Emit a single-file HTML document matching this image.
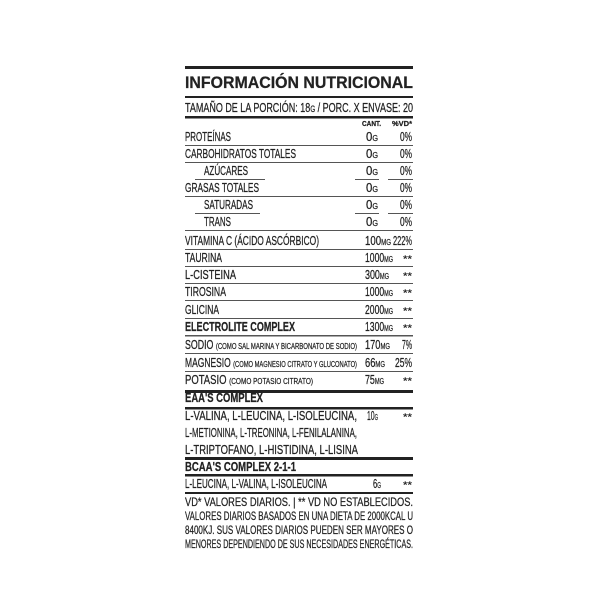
<!DOCTYPE html>
<html><head><style>
html,body{margin:0;padding:0;background:#fff;width:600px;height:600px;overflow:hidden}
svg text{font-family:"Liberation Sans",sans-serif;fill:#222;stroke:#222;stroke-width:0.25}
</style></head><body>
<svg width="600" height="600" viewBox="0 0 600 600" xmlns="http://www.w3.org/2000/svg">
<g fill="#222">
<rect x="185" y="66" width="228" height="3"/>
<rect x="185" y="96" width="228" height="2"/>
<rect x="185" y="116" width="228" height="2.5"/>
<rect x="185" y="390" width="228" height="3"/>
<rect x="185" y="407" width="228" height="2.5"/>
<rect x="185" y="457" width="228" height="3"/>
<rect x="185" y="474" width="228" height="2.5"/>
<rect x="185" y="492" width="228" height="2"/>
</g>
<g fill="#555">
<rect x="185" y="145" width="228" height="1"/>
<rect x="185" y="162" width="228" height="1"/>
<rect x="195" y="179" width="70" height="1"/><rect x="355" y="179" width="24" height="1"/><rect x="388" y="179" width="25" height="1"/>
<rect x="185" y="196" width="228" height="1"/>
<rect x="195" y="213" width="65" height="1"/><rect x="355" y="213" width="24" height="1"/><rect x="388" y="213" width="25" height="1"/>
<rect x="185" y="230" width="228" height="1"/>
<rect x="185" y="249" width="228" height="1"/>
<rect x="185" y="266" width="228" height="1"/>
<rect x="185" y="283" width="228" height="1"/>
<rect x="185" y="300" width="228" height="1"/>
<rect x="185" y="318" width="228" height="1"/>
<rect x="185" y="335" width="228" height="1.5"/>
<rect x="185" y="353" width="228" height="1"/>
<rect x="185" y="371" width="228" height="1"/>
</g>
<text x="185" y="88" font-size="17" font-weight="bold" textLength="228" lengthAdjust="spacingAndGlyphs">INFORMACIÓN NUTRICIONAL</text>
<text x="185" y="112" font-size="13" textLength="228" lengthAdjust="spacingAndGlyphs">TAMAÑO DE LA PORCIÓN: 18<tspan font-size="9">G</tspan> / PORC. X ENVASE: 20</text>
<text x="362" y="126" font-size="7" font-weight="bold" textLength="19" lengthAdjust="spacingAndGlyphs">CANT.</text>
<text x="392" y="126" font-size="7" font-weight="bold" textLength="20" lengthAdjust="spacingAndGlyphs">%VD*</text>
<g font-size="12.5">
<text x="185" y="141" textLength="46" lengthAdjust="spacingAndGlyphs">PROTEÍNAS</text>
<text x="185" y="158" textLength="111" lengthAdjust="spacingAndGlyphs">CARBOHIDRATOS TOTALES</text>
<text x="204" y="175" textLength="44" lengthAdjust="spacingAndGlyphs">AZÚCARES</text>
<text x="185" y="192" textLength="74" lengthAdjust="spacingAndGlyphs">GRASAS TOTALES</text>
<text x="204" y="209" textLength="49" lengthAdjust="spacingAndGlyphs">SATURADAS</text>
<text x="204" y="226" textLength="27" lengthAdjust="spacingAndGlyphs">TRANS</text>
<text x="185" y="245" textLength="134" lengthAdjust="spacingAndGlyphs">VITAMINA C (ÁCIDO ASCÓRBICO)</text>
<text x="185" y="262" textLength="37" lengthAdjust="spacingAndGlyphs">TAURINA</text>
<text x="185" y="279" textLength="51" lengthAdjust="spacingAndGlyphs">L-CISTEINA</text>
<text x="185" y="296" textLength="41" lengthAdjust="spacingAndGlyphs">TIROSINA</text>
<text x="185" y="314" textLength="34" lengthAdjust="spacingAndGlyphs">GLICINA</text>
<text x="185" y="331" font-weight="bold" textLength="110" lengthAdjust="spacingAndGlyphs">ELECTROLITE COMPLEX</text>
<text x="185" y="349" textLength="172" lengthAdjust="spacingAndGlyphs">SODIO <tspan font-size="8.5">(COMO SAL MARINA Y BICARBONATO DE SODIO)</tspan></text>
<text x="185" y="367" textLength="172" lengthAdjust="spacingAndGlyphs">MAGNESIO <tspan font-size="8.5">(COMO MAGNESIO CITRATO Y GLUCONATO)</tspan></text>
<text x="185" y="384" textLength="128" lengthAdjust="spacingAndGlyphs">POTASIO <tspan font-size="8.5">(COMO POTASIO CITRATO)</tspan></text>
<text x="185" y="402" font-weight="bold" textLength="78" lengthAdjust="spacingAndGlyphs">EAA'S COMPLEX</text>
<text x="185" y="420" textLength="172" lengthAdjust="spacingAndGlyphs">L-VALINA, L-LEUCINA, L-ISOLEUCINA,</text>
<text x="185" y="437" textLength="172" lengthAdjust="spacingAndGlyphs">L-METIONINA, L-TREONINA, L-FENILALANINA,</text>
<text x="185" y="454" textLength="173" lengthAdjust="spacingAndGlyphs">L-TRIPTOFANO, L-HISTIDINA, L-LISINA</text>
<text x="185" y="471" font-weight="bold" textLength="111" lengthAdjust="spacingAndGlyphs">BCAA'S COMPLEX 2-1-1</text>
<text x="185" y="488" textLength="142" lengthAdjust="spacingAndGlyphs">L-LEUCINA, L-VALINA, L-ISOLEUCINA</text>
</g>
<g font-size="12.5">
<text x="366" y="141" textLength="12" lengthAdjust="spacingAndGlyphs">0<tspan font-size="8">G</tspan></text><text x="400" y="141" textLength="12" lengthAdjust="spacingAndGlyphs">0%</text>
<text x="366" y="158" textLength="12" lengthAdjust="spacingAndGlyphs">0<tspan font-size="8">G</tspan></text><text x="400" y="158" textLength="12" lengthAdjust="spacingAndGlyphs">0%</text>
<text x="366" y="175" textLength="12" lengthAdjust="spacingAndGlyphs">0<tspan font-size="8">G</tspan></text><text x="400" y="175" textLength="12" lengthAdjust="spacingAndGlyphs">0%</text>
<text x="366" y="192" textLength="12" lengthAdjust="spacingAndGlyphs">0<tspan font-size="8">G</tspan></text><text x="400" y="192" textLength="12" lengthAdjust="spacingAndGlyphs">0%</text>
<text x="366" y="209" textLength="12" lengthAdjust="spacingAndGlyphs">0<tspan font-size="8">G</tspan></text><text x="400" y="209" textLength="12" lengthAdjust="spacingAndGlyphs">0%</text>
<text x="366" y="226" textLength="12" lengthAdjust="spacingAndGlyphs">0<tspan font-size="8">G</tspan></text><text x="400" y="226" textLength="12" lengthAdjust="spacingAndGlyphs">0%</text>
<text x="365" y="245" textLength="26" lengthAdjust="spacingAndGlyphs">100<tspan font-size="8">MG</tspan></text><text x="393" y="245" textLength="19" lengthAdjust="spacingAndGlyphs">222%</text>
<text x="365" y="262" textLength="28" lengthAdjust="spacingAndGlyphs">1000<tspan font-size="8">MG</tspan></text><text x="403" y="262" font-size="9" fill="#777" textLength="9" lengthAdjust="spacingAndGlyphs">**</text>
<text x="365" y="279" textLength="24" lengthAdjust="spacingAndGlyphs">300<tspan font-size="8">MG</tspan></text><text x="403" y="279" font-size="9" fill="#777" textLength="9" lengthAdjust="spacingAndGlyphs">**</text>
<text x="365" y="296" textLength="28" lengthAdjust="spacingAndGlyphs">1000<tspan font-size="8">MG</tspan></text><text x="403" y="296" font-size="9" fill="#777" textLength="9" lengthAdjust="spacingAndGlyphs">**</text>
<text x="365" y="314" textLength="28" lengthAdjust="spacingAndGlyphs">2000<tspan font-size="8">MG</tspan></text><text x="403" y="314" font-size="9" fill="#777" textLength="9" lengthAdjust="spacingAndGlyphs">**</text>
<text x="365" y="331" textLength="28" lengthAdjust="spacingAndGlyphs">1300<tspan font-size="8">MG</tspan></text><text x="403" y="331" font-size="9" fill="#777" textLength="9" lengthAdjust="spacingAndGlyphs">**</text>
<text x="365" y="349" textLength="25" lengthAdjust="spacingAndGlyphs">170<tspan font-size="8">MG</tspan></text><text x="402" y="349" textLength="10" lengthAdjust="spacingAndGlyphs">7%</text>
<text x="365" y="367" textLength="20" lengthAdjust="spacingAndGlyphs">66<tspan font-size="8">MG</tspan></text><text x="395" y="367" textLength="17" lengthAdjust="spacingAndGlyphs">25%</text>
<text x="365" y="384" textLength="19" lengthAdjust="spacingAndGlyphs">75<tspan font-size="8">MG</tspan></text><text x="403" y="384" font-size="9" fill="#777" textLength="9" lengthAdjust="spacingAndGlyphs">**</text>
<text x="367" y="420" textLength="11" lengthAdjust="spacingAndGlyphs">10<tspan font-size="8">G</tspan></text><text x="403" y="420" font-size="9" fill="#777" textLength="9" lengthAdjust="spacingAndGlyphs">**</text>
<text x="373" y="488" textLength="8" lengthAdjust="spacingAndGlyphs">6<tspan font-size="8">G</tspan></text><text x="403" y="488" font-size="9" fill="#777" textLength="9" lengthAdjust="spacingAndGlyphs">**</text>
</g>
<g font-size="12">
<text x="185" y="506" textLength="228" lengthAdjust="spacingAndGlyphs">VD* VALORES DIARIOS.  |  ** VD NO ESTABLECIDOS.</text>
<text x="185" y="520" textLength="228" lengthAdjust="spacingAndGlyphs">VALORES DIARIOS BASADOS EN UNA DIETA DE 2000KCAL U</text>
<text x="185" y="534" textLength="228" lengthAdjust="spacingAndGlyphs">8400KJ. SUS VALORES DIARIOS PUEDEN SER MAYORES O</text>
<text x="185" y="548" textLength="228" lengthAdjust="spacingAndGlyphs">MENORES DEPENDIENDO DE SUS NECESIDADES ENERGÉTICAS.</text>
</g>
</svg>
</body></html>
